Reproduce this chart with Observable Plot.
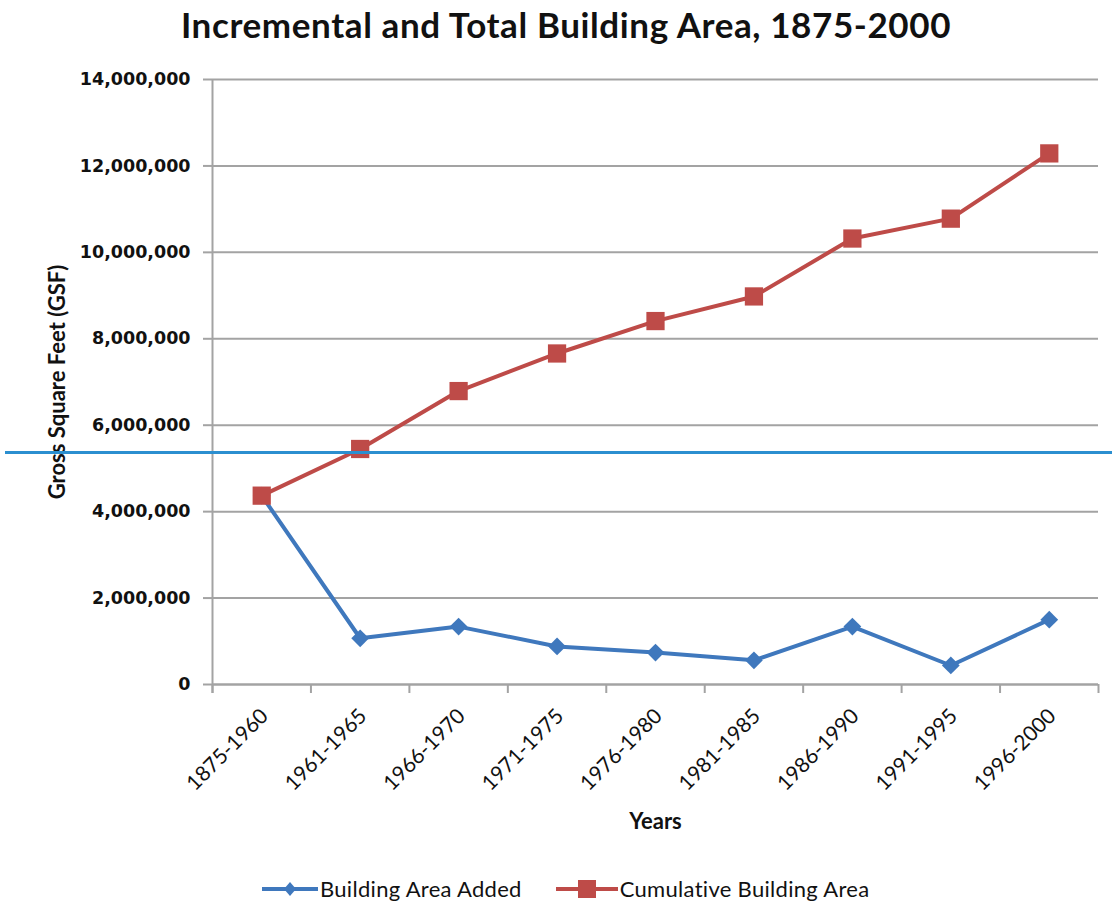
<!DOCTYPE html>
<html>
<head>
<meta charset="utf-8">
<script src="https://cdn.jsdelivr.net/npm/d3@7"></script>
<script src="https://cdn.jsdelivr.net/npm/@observablehq/plot@0.6"></script>
<style>
  html, body { margin: 0; padding: 0; background: #fff; }
  #wrap { width: 1112px; height: 902px; position: relative; overflow: hidden; }
  #title { height: 50px; line-height: 48px; text-align: center; padding-left: 20px; box-sizing: border-box;
           font-family: Lato, "Open Sans", sans-serif; font-weight: bold; font-size: 35px; letter-spacing: 0.6px; color: #111; }
  #legend { display: flex; gap: 34px; padding-left: 262px; margin-top: 25px;
            font-family: Lato, "Open Sans", sans-serif; font-size: 22px; letter-spacing: 0.3px; color: #111; align-items: center; }
  .item { display: flex; align-items: center; }
  .item svg { margin-right: 2px; }
</style>
</head>
<body>
<div id="wrap">
  <div id="title">Incremental and Total Building Area, 1875-2000</div>
  <div id="chart"></div>
  <div id="legend"></div>
</div>
<script>
const categories = ["1875-1960", "1961-1965", "1966-1970", "1971-1975", "1976-1980",
                    "1981-1985", "1986-1990", "1991-1995", "1996-2000"];
const areaAdded = [4370000, 1070000, 1340000, 880000, 740000, 560000, 1340000, 440000, 1500000];
const cumulativeArea = [4370000, 5450000, 6790000, 7660000, 8410000, 8980000, 10320000, 10780000, 12290000];
const yTicks = [0, 2000000, 4000000, 6000000, 8000000, 10000000, 12000000, 14000000];
const referenceLine = [5370000];
const seriesNames = ["Building Area Added", "Cumulative Building Area"];
const seriesColors = ["#3f78bd", "#be4b48"];

const rows = categories.map((c, i) => ({ pos: i + 0.5, cat: c, added: areaAdded[i], cum: cumulativeArea[i] }));
const boundaries = d3.range(categories.length + 1);
const centers = categories.map((c, i) => i + 0.5);
const gray = "#a3a3a3";

const chart = Plot.plot({
  width: 1112,
  height: 800,
  marginLeft: 212,
  marginRight: 14,
  marginTop: 29,
  marginBottom: 166,
  style: { fontFamily: "Lato, 'Open Sans', sans-serif", background: "#fff", color: "#111" },
  x: { domain: [0, categories.length], axis: null },
  y: { domain: [0, 14000000], axis: null },
  marks: [
    Plot.gridY(yTicks, { stroke: gray, strokeOpacity: 1, strokeWidth: 2 }),
    Plot.axisY(yTicks, {
      tickSize: 9, tickPadding: 13, stroke: gray, strokeWidth: 2, fill: "#111",
      tickFormat: d3.format(","), fontSize: 17.5, fontWeight: "bold",
      fontFamily: "'DejaVu Sans', sans-serif", label: null
    }),
    Plot.ruleX([0], { stroke: gray, strokeWidth: 2, insetBottom: -9 }),
    Plot.ruleY([0], { stroke: gray, strokeWidth: 2 }),
    Plot.axisX(boundaries, { tickSize: 9, stroke: gray, strokeWidth: 2, tickFormat: () => "", label: null }),
    Plot.axisX(centers, {
      tickSize: 0, tickPadding: 28, tickRotate: -45, fontSize: 21, fill: "#111", dx: 3,
      tickFormat: (d) => categories[Math.floor(d)], label: null
    }),
    Plot.text(["Years"], { frameAnchor: "bottom", dy: 144, fontWeight: "bold", fontSize: 22, fill: "#111" }),
    Plot.text(["Gross Square Feet (GSF)"], {
      frameAnchor: "left", textAnchor: "middle", rotate: -90, dx: -155, fontWeight: "bold",
      fontSize: 22, fill: "#111"
    }),
    Plot.line(rows, { x: "pos", y: "added", stroke: seriesColors[0], strokeWidth: 4 }),
    Plot.dot(rows, { x: "pos", y: "added", symbol: "diamond2", r: 8, fill: seriesColors[0], stroke: "none" }),
    Plot.line(rows, { x: "pos", y: "cum", stroke: seriesColors[1], strokeWidth: 4 }),
    Plot.dot(rows, { x: "pos", y: "cum", symbol: "square", r: 10.3, fill: seriesColors[1], stroke: "none" }),
    Plot.ruleY(referenceLine, { stroke: "#2b8fd0", strokeWidth: 3, insetLeft: -207, insetRight: -14 })
  ]
});
document.getElementById("chart").appendChild(chart);

// Legend
const legend = document.getElementById("legend");
seriesNames.forEach((name, k) => {
  const item = document.createElement("div");
  item.className = "item";
  const w = k === 0 ? 56 : 62;
  const sym = k === 0
    ? `<path d="M${w/2} 4 L${w/2+6} 11 L${w/2} 18 L${w/2-6} 11 Z" fill="${seriesColors[k]}"/>`
    : `<rect x="${w/2-9}" y="2" width="18" height="18" fill="${seriesColors[k]}"/>`;
  item.innerHTML = `<svg width="${w}" height="22"><line x1="0" x2="${w}" y1="11" y2="11" stroke="${seriesColors[k]}" stroke-width="4"/>${sym}</svg><span>${name}</span>`;
  legend.appendChild(item);
});
</script>
</body>
</html>
